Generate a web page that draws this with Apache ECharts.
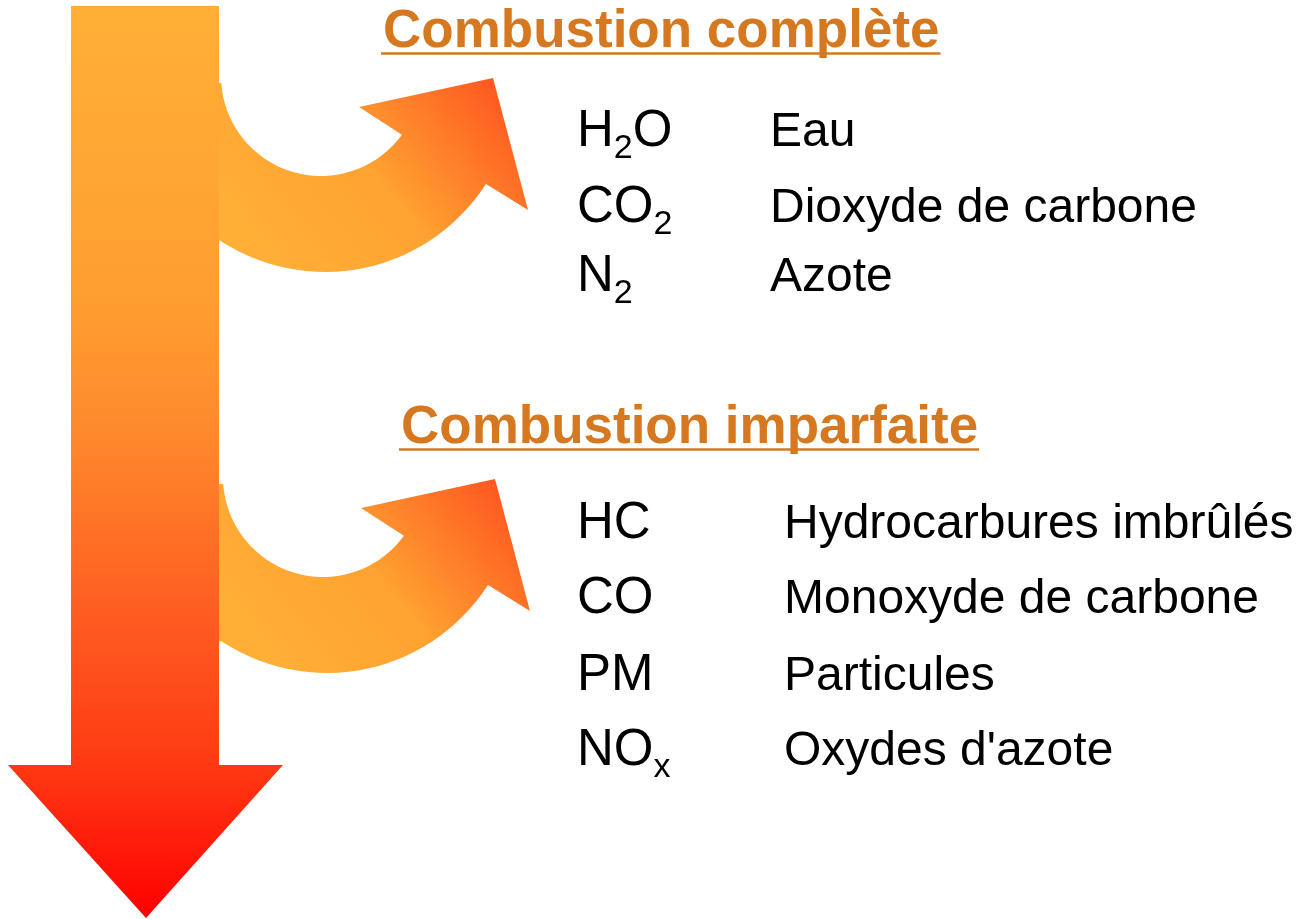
<!DOCTYPE html>
<html>
<head>
<meta charset="utf-8">
<title>Combustion</title>
<script src="https://cdn.jsdelivr.net/npm/echarts@6/dist/echarts.min.js"></script>
<style>
  html, body { margin: 0; padding: 0; background: #fff; }
  #chart { width: 1298px; height: 919px; }
</style>
</head>
<body>
<div id="chart"></div>
<script>
// textes du schéma ('_' = indice)
const titles = ['Combustion complète', 'Combustion imparfaite']
const formulasComplete = ['H_2O', 'CO_2', 'N_2']
const namesComplete = ['Eau', 'Dioxyde de carbone', 'Azote']
const formulasImparfaite = ['HC', 'CO', 'PM', 'NO_x']
const namesImparfaite = ['Hydrocarbures imbrûlés', 'Monoxyde de carbone', 'Particules', "Oxydes d'azote"]

const W = 1298
const H = 919
const FAMILY = '"Liberation Sans", Arial, Helvetica, sans-serif'
const TITLE_FONT = 'bold 53px ' + FAMILY
const BODY_SIZE = 48
const FORMULA_SIZE = 51
const SUB_SIZE = 34
const TITLE_COLOR = '#D5781F'
const MID = 0.28 // distance ligne de base -> milieu du texte (en em)

// mise en page (coordonnées des axes cachés = pixels)
const layout = {
  formulaX: 577,
  blocks: [
    { formulas: formulasComplete, names: namesComplete, titleX: 383, titleY: 47, nameX: 770, rowY: [146, 222, 291], shift: [0, 0] },
    { formulas: formulasImparfaite, names: namesImparfaite, titleX: 401, titleY: 443, nameX: 784, rowY: [538, 613, 690, 765], shift: [2, 401] }
  ]
}

const ctx = document.createElement('canvas').getContext('2d')
function textWidth(text, font) {
  ctx.font = font
  return ctx.measureText(text).width
}

function splitFormula(f) {
  const parts = []
  for (let i = 0; i < f.length; i++) {
    if (f[i] === '_') {
      parts.push([f[i + 1], true])
      i++
    } else if (parts.length && !parts[parts.length - 1][1]) {
      parts[parts.length - 1][0] += f[i]
    } else {
      parts.push([f[i], false])
    }
  }
  return parts
}

const rad = a => a * Math.PI / 180

// flèche courbe (forme de base, avant décalage)
function branchPoints(dx, dy) {
  const pts = [[212, 83]]
  for (let a = 176; a > 36; a -= 4) {
    pts.push([321 + 100 * Math.cos(rad(a)), 76 + 100 * Math.sin(rad(a))])
  }
  pts.push([321 + 100 * Math.cos(rad(36)), 76 + 100 * Math.sin(rad(36))])
  pts.push([359, 107], [493, 78], [528, 210], [486, 184])
  for (let a = 32.6; a < 123.5; a += 3) {
    pts.push([325 + 191 * Math.cos(rad(a)), 81 + 191 * Math.sin(rad(a))])
  }
  pts.push([325 + 191 * Math.cos(rad(123.5)), 81 + 191 * Math.sin(rad(123.5))])
  pts.push([212, 240])
  return pts.map(p => [p[0] + dx, p[1] + dy])
}

function renderBranch(params, api) {
  const b = layout.blocks[api.value(0)]
  const [dx, dy] = b.shift
  const points = branchPoints(dx, dy).map(p => api.coord(p))
  const g0 = api.coord([280 + dx, 265 + dy])
  const g1 = api.coord([505 + dx, 82 + dy])
  return {
    type: 'polygon',
    shape: { points },
    style: {
      fill: new echarts.graphic.LinearGradient(g0[0], g0[1], g1[0], g1[1], [
        { offset: 0, color: '#FFAE36' },
        { offset: 0.45, color: '#FFA231' },
        { offset: 1, color: '#FF5420' }
      ], true)
    }
  }
}

function renderTrunk(params, api) {
  const points = [[71, 6], [219, 6], [219, 765], [283, 765], [146, 918], [8, 765], [71, 765]].map(p => api.coord(p))
  const top = api.coord([0, 6])
  const bottom = api.coord([0, 918])
  return {
    type: 'polygon',
    shape: { points },
    style: {
      fill: new echarts.graphic.LinearGradient(0, top[1], 0, bottom[1], [
        { offset: 0, color: '#FFAF36' },
        { offset: 0.17, color: '#FFA734' },
        { offset: 0.34, color: '#FF9C31' },
        { offset: 0.48, color: '#FF872B' },
        { offset: 0.65, color: '#FF6022' },
        { offset: 0.83, color: '#FF3A14' },
        { offset: 1, color: '#FF0000' }
      ], true)
    }
  }
}

function renderTitle(params, api) {
  const i = api.value(0)
  const b = layout.blocks[i]
  const p = api.coord([b.titleX, b.titleY])
  const w = textWidth(titles[i], TITLE_FONT)
  return {
    type: 'group',
    children: [
      {
        type: 'text',
        x: p[0],
        y: p[1] - 53 * MID,
        style: { text: titles[i], font: TITLE_FONT, fill: TITLE_COLOR, align: 'left', verticalAlign: 'middle' }
      },
      {
        type: 'line',
        shape: { x1: p[0] - 2, y1: p[1] + 6.5, x2: p[0] + w + 1, y2: p[1] + 6.5 },
        style: { stroke: TITLE_COLOR, lineWidth: 2.5 }
      }
    ]
  }
}

function renderRow(params, api) {
  const b = layout.blocks[api.value(0)]
  const r = api.value(1)
  const base = api.coord([layout.formulaX, b.rowY[r]])
  const children = []
  let x = base[0]
  splitFormula(b.formulas[r]).forEach(([txt, sub]) => {
    const size = sub ? SUB_SIZE : FORMULA_SIZE
    const font = size + 'px ' + FAMILY
    const baseline = base[1] + (sub ? 12 : 0)
    children.push({
      type: 'text',
      x: x,
      y: baseline - size * MID,
      style: { text: txt, font, fill: '#000', align: 'left', verticalAlign: 'middle' }
    })
    x += textWidth(txt, font)
  })
  const nx = api.coord([b.nameX, b.rowY[r]])
  children.push({
    type: 'text',
    x: nx[0],
    y: nx[1] - BODY_SIZE * MID,
    style: { text: b.names[r], font: BODY_SIZE + 'px ' + FAMILY, fill: '#000', align: 'left', verticalAlign: 'middle' }
  })
  return { type: 'group', children }
}

const rows = []
layout.blocks.forEach((b, bi) => b.formulas.forEach((f, ri) => rows.push([bi, ri])))

const chart = echarts.init(document.getElementById('chart'))
chart.setOption({
  animation: false,
  backgroundColor: '#fff',
  grid: { left: 0, right: 0, top: 0, bottom: 0 },
  xAxis: { type: 'value', min: 0, max: W, show: false },
  yAxis: { type: 'value', min: 0, max: H, inverse: true, show: false },
  series: [
    { type: 'custom', name: 'branches', data: [[0], [1]], renderItem: renderBranch, silent: true },
    { type: 'custom', name: 'flux', data: [[0]], renderItem: renderTrunk, silent: true },
    { type: 'custom', name: 'titres', data: [[0], [1]], renderItem: renderTitle, silent: true },
    { type: 'custom', name: 'gaz', data: rows, renderItem: renderRow, silent: true }
  ]
})
window.addEventListener('resize', () => chart.resize())
</script>
</body>
</html>
